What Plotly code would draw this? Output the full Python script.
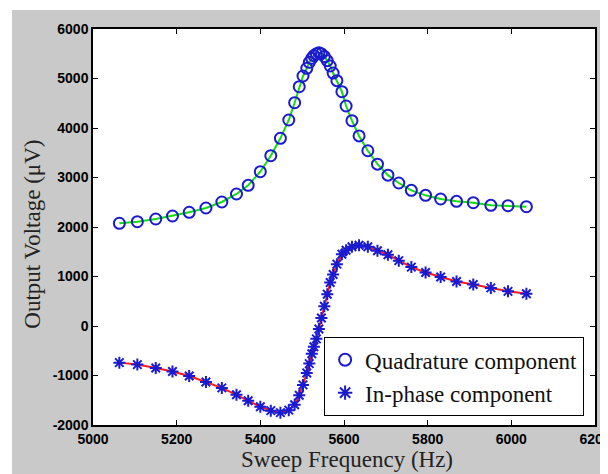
import plotly.graph_objects as go

# Sweep frequencies (Hz)
freq = [5063, 5106, 5150, 5190, 5230, 5270, 5308, 5343, 5371, 5400, 5425, 5448,
        5468, 5482, 5493, 5502, 5511, 5517, 5523, 5528, 5534, 5540, 5546, 5553,
        5560, 5567, 5574, 5583, 5595, 5605, 5619, 5636, 5657, 5680, 5705, 5731,
        5761, 5795, 5831, 5869, 5909, 5951, 5992, 6036]

# Quadrature component (uV)
quadrature = [2075, 2107, 2162, 2222, 2297, 2384, 2505, 2667, 2842, 3117, 3440, 3792,
              4162, 4511, 4834, 5050, 5206, 5327, 5408, 5461, 5500, 5520, 5500, 5445,
              5360, 5253, 5110, 4956, 4733, 4444, 4147, 3840, 3540, 3270, 3047, 2889,
              2741, 2640, 2566, 2519, 2491, 2438, 2430, 2410]

# In-phase component (uV)
inphase = [-740, -780, -850, -920, -1010, -1130, -1250, -1390, -1510, -1630, -1710, -1750,
           -1700, -1590, -1400, -1190, -950, -760, -560, -420, -260, -60, 160, 400,
           640, 880, 1040, 1250, 1450, 1530, 1600, 1630, 1600, 1520, 1440, 1320,
           1190, 1080, 990, 900, 840, 770, 700, 650]

x_ticks = [5000, 5200, 5400, 5600, 5800, 6000, 6200]
y_ticks = [-2000, -1000, 0, 1000, 2000, 3000, 4000, 5000, 6000]

BLUE = "#1a1ad0"
SERIF = "Liberation Serif, DejaVu Serif, serif"

fig = go.Figure()
fig.add_trace(go.Scatter(x=freq, y=quadrature, mode="lines",
                         line=dict(color="#12dc12", width=2), showlegend=False,
                         hoverinfo="skip"))
fig.add_trace(go.Scatter(x=freq, y=inphase, mode="lines",
                         line=dict(color="#ff1a1a", width=2), showlegend=False,
                         hoverinfo="skip"))
fig.add_trace(go.Scatter(x=freq, y=quadrature, mode="markers", name="Quadrature component",
                         marker=dict(symbol="circle-open", size=11, color=BLUE,
                                     line=dict(color=BLUE, width=2))))
fig.add_trace(go.Scatter(x=freq, y=inphase, mode="markers", name="In-phase component",
                         marker=dict(symbol="asterisk-open", size=10, color=BLUE,
                                     line=dict(color=BLUE, width=2))))

axis_common = dict(showline=True, linecolor="black", linewidth=1.5, mirror="ticks",
                   ticks="inside", ticklen=5, tickwidth=1.2, tickcolor="black",
                   showgrid=False, zeroline=False, automargin=False,
                   tickfont=dict(family="Liberation Sans, Arial, sans-serif", size=14,
                                 color="black", weight="bold"))

fig.update_xaxes(range=[5000, 6200], tickvals=x_ticks, ticktext=[str(v) for v in x_ticks],
                 ticklabeloverflow="allow", **axis_common)
fig.update_yaxes(range=[-2000, 6000], tickvals=y_ticks, ticktext=[str(v) for v in y_ticks],
                 ticklabeloverflow="allow", **axis_common)

# The page body has an 8 px margin, so the figure is 8 px smaller than the window.
fig.update_layout(
    width=600, height=466,
    margin=dict(l=85, r=13, t=21, b=49),
    paper_bgcolor="#c9c9c9",
    plot_bgcolor="white",
    legend=dict(x=0.46, y=0.222, xanchor="left", yanchor="top",
                bgcolor="white", bordercolor="black", borderwidth=1.2,
                font=dict(family=SERIF, size=23, color="#111"),
                itemsizing="constant"),
    annotations=[
        dict(text="Sweep Frequency (Hz)", xref="paper", yref="paper",
             x=0.505, y=-0.0859, xanchor="center", yanchor="middle", showarrow=False,
             font=dict(family=SERIF, size=23, color="#222")),
        dict(text="Output Voltage (μV)", xref="paper", yref="paper", textangle=-90,
             x=-0.1205, y=0.482, xanchor="center", yanchor="middle", showarrow=False,
             font=dict(family=SERIF, size=23, color="#222")),
    ],
    shapes=[
        dict(type="rect", xref="paper", yref="paper", x0=-0.3, x1=-0.1614,
             y0=-0.3, y1=1.3, fillcolor="white", line=dict(width=0), layer="below"),
        dict(type="rect", xref="paper", yref="paper", x0=-0.3, x1=1.3,
             y0=1.048, y1=1.3, fillcolor="white", line=dict(width=0), layer="below"),
    ],
)

fig.write_html("out.html")
